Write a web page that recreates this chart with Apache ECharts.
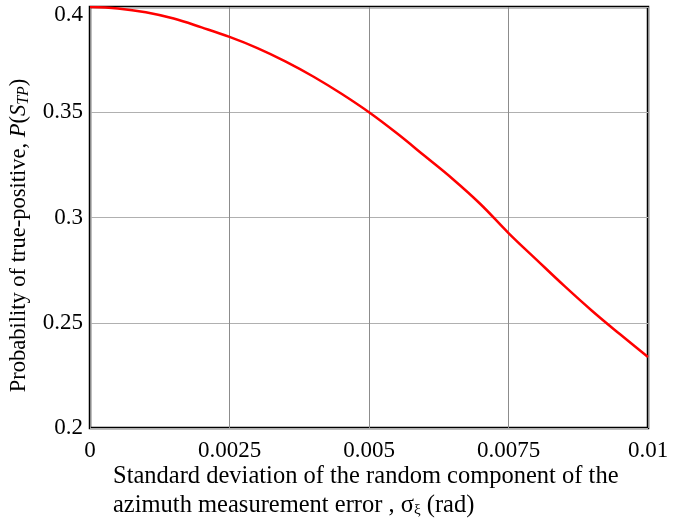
<!DOCTYPE html>
<html>
<head>
<meta charset="utf-8">
<script src="https://cdn.jsdelivr.net/npm/echarts@6/dist/echarts.min.js"></script>
<style>
  html, body { margin: 0; padding: 0; background: #fff; }
  #chart { width: 673px; height: 523px; }
</style>
</head>
<body>
<div id="chart"></div>
<script>
// standard deviation of azimuth error, rad
var sigmaValues = [0, 0.0005, 0.001, 0.0015, 0.002, 0.0025, 0.003, 0.0035, 0.004, 0.0045,
  0.005, 0.0055, 0.006, 0.0065, 0.007, 0.0075, 0.008, 0.0085, 0.009, 0.0095, 0.01]
// probability of true-positive
var probValues = [0.4000, 0.3993, 0.3975, 0.3945, 0.3903, 0.3858, 0.3805, 0.3742, 0.3670, 0.3589,
  0.3500, 0.3400, 0.3292, 0.3183, 0.3063, 0.2926, 0.2800, 0.2675, 0.2556, 0.2445, 0.2337]
var xTicks = [0, 0.0025, 0.005, 0.0075, 0.01]
var yTicks = [0.2, 0.25, 0.3, 0.35, 0.4]

var font = '"Liberation Serif", "Times New Roman", serif'
var chart = echarts.init(document.getElementById('chart'))

var points = sigmaValues.map(function (x, i) { return [x, probValues[i]] })

function fmt(v) { return String(parseFloat(v.toPrecision(6))) }

chart.setOption({
  animation: false,
  backgroundColor: '#fff',
  grid: {
    left: 90, right: 25, top: 7, bottom: 95,
    outerBoundsMode: 'none',
    containLabel: false,
    show: true, borderColor: '#000', borderWidth: 2.5, backgroundColor: 'transparent'
  },
  xAxis: {
    type: 'value',
    min: xTicks[0], max: xTicks[xTicks.length - 1], interval: 0.0025,
    axisLine: { show: false },
    axisTick: { show: false },
    axisLabel: { formatter: fmt, fontFamily: font, fontSize: 23, color: '#000', margin: 11 },
    splitLine: { show: true, lineStyle: { color: '#8c8c8c', width: 1 } }
  },
  yAxis: {
    type: 'value',
    min: yTicks[0], max: yTicks[yTicks.length - 1], interval: 0.05,
    axisLine: { show: false },
    axisTick: { show: false },
    axisLabel: {
      formatter: function (v) {
        // top label sits a little lower, inside the picture
        return v === yTicks[yTicks.length - 1] ? '{t|' + fmt(v) + '}' : fmt(v)
      },
      fontFamily: font, fontSize: 23, color: '#000', margin: 7,
      rich: { t: { fontFamily: font, fontSize: 23, color: '#000', padding: [16, 0, 0, 0] } }
    },
    splitLine: { show: true, lineStyle: { color: '#b0b0b0', width: 1 } },
    name: '{n|Probability of true-positive, }{i|P}{n|(}{i|S}{s|TP}{n|)}',
    nameLocation: 'middle',
    nameGap: 48,
    nameTextStyle: {
      padding: [0, 36, 0, 0],
      rich: {
        n: { fontFamily: font, fontSize: 22.5, color: '#000' },
        i: { fontFamily: font, fontSize: 22.5, fontStyle: 'italic', color: '#000' },
        s: { fontFamily: font, fontSize: 16, fontStyle: 'italic', color: '#000', padding: [9, 0, 0, 0] }
      }
    }
  },
  graphic: [{
    type: 'text',
    left: 113, top: 464,
    style: {
      text: '{n|Standard deviation of the random component of the}\n{n|azimuth measurement error , σ}{s|ξ}{n| (rad)}',
      rich: {
        n: { fontFamily: font, fontSize: 24.5, color: '#000', lineHeight: 29 },
        s: { fontFamily: font, fontSize: 15, color: '#000', lineHeight: 29, padding: [9, 0, 0, 0] }
      }
    }
  }],
  series: [{
    type: 'line',
    data: points,
    smooth: 0.4,
    showSymbol: false,
    lineStyle: { color: '#ff0000', width: 2.5 },
    z: 5
  }]
})
</script>
</body>
</html>
